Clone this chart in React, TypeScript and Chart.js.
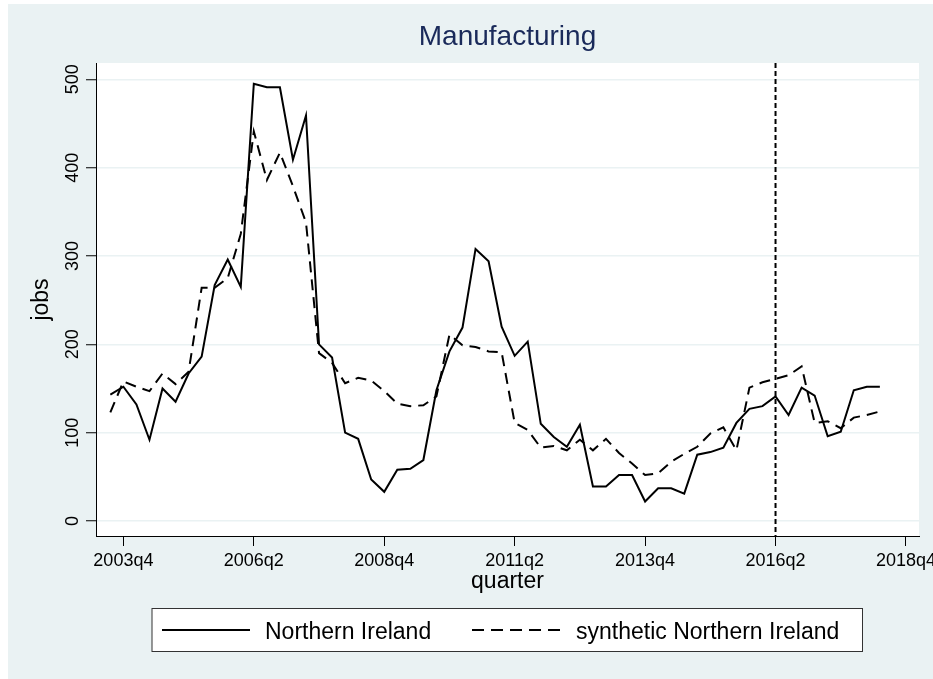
import React, { useEffect, useRef } from 'react';
import { Chart, registerables } from 'chart.js';

Chart.register(...registerables);

const quarters = [
  '2003q3', '2003q4', '2004q1', '2004q2', '2004q3', '2004q4', '2005q1', '2005q2', '2005q3', '2005q4',
  '2006q1', '2006q2', '2006q3', '2006q4', '2007q1', '2007q2', '2007q3', '2007q4', '2008q1', '2008q2',
  '2008q3', '2008q4', '2009q1', '2009q2', '2009q3', '2009q4', '2010q1', '2010q2', '2010q3', '2010q4',
  '2011q1', '2011q2', '2011q3', '2011q4', '2012q1', '2012q2', '2012q3', '2012q4', '2013q1', '2013q2',
  '2013q3', '2013q4', '2014q1', '2014q2', '2014q3', '2014q4', '2015q1', '2015q2', '2015q3', '2015q4',
  '2016q1', '2016q2', '2016q3', '2016q4', '2017q1', '2017q2', '2017q3', '2017q4', '2018q1', '2018q2',
];

const northernIreland = [
  143, 152, 132, 92, 150, 135, 167, 186, 267, 296,
  265, 495, 491, 491, 409, 459, 200, 185, 100, 93,
  47, 33, 58, 59, 69, 148, 192, 219, 308, 294,
  220, 187, 203, 110, 95, 84, 109, 39, 39, 52,
  52, 22, 37, 37, 31, 75, 78, 83, 111, 127,
  130, 141, 120, 151, 142, 96, 101, 148, 152, 152,
];

const syntheticNorthernIreland = [
  123, 158, 152, 147, 167, 155, 169, 264, 264, 275,
  325, 441, 386, 417, 379, 338, 190, 179, 156, 162,
  159, 147, 133, 130, 131, 141, 211, 199, 197, 192,
  191, 111, 103, 83, 85, 80, 92, 80, 93, 77,
  65, 52, 54, 67, 76, 84, 99, 106, 80, 151,
  157, 161, 165, 175, 111, 113, 105, 117, 120, 124,
];

const xTickLabels = ['2003q4', '2006q2', '2008q4', '2011q2', '2013q4', '2016q2', '2018q4'];
const yTickValues = [0, 100, 200, 300, 400, 500];
const treatmentQuarter = '2016q2';
const titleText = 'Manufacturing';
const xTitle = 'quarter';
const yTitle = 'jobs';
const seriesNames = ['Northern Ireland', 'synthetic Northern Ireland'];

const FONT = '"Liberation Sans", Arial, Helvetica, sans-serif';
const BG = '#eaf2f3';

// quarter label -> numeric index (quarters after 2003q4)
function quarterIndex(label: string): number {
  const [y, q] = label.split('q').map(Number);
  return y * 4 + (q - 1) - (2003 * 4 + 3);
}

export default function App() {
  const canvasRef = useRef<HTMLCanvasElement | null>(null);

  useEffect(() => {
    const canvas = canvasRef.current;
    if (!canvas) return;

    const decorPlugin = {
      id: 'decor',
      beforeDraw(chart: any) {
        const { ctx, chartArea, width, height } = chart;
        ctx.save();
        ctx.fillStyle = BG;
        ctx.fillRect(0, 0, width, height);
        ctx.fillStyle = '#ffffff';
        ctx.fillRect(chartArea.left, chartArea.top, chartArea.right - chartArea.left, chartArea.bottom - chartArea.top);
        ctx.restore();
      },
      afterDraw(chart: any) {
        const { ctx, chartArea } = chart;
        const xs = chart.scales.x;
        const ys = chart.scales.y;
        ctx.save();

        // treatment line
        const tx = xs.getPixelForValue(quarterIndex(treatmentQuarter));
        ctx.strokeStyle = '#000';
        ctx.lineWidth = 2;
        ctx.setLineDash([5, 3]);
        ctx.beginPath();
        ctx.moveTo(tx, chartArea.top);
        ctx.lineTo(tx, chartArea.bottom);
        ctx.stroke();
        ctx.setLineDash([]);

        // title
        const cx = (chartArea.left + chartArea.right) / 2;
        ctx.fillStyle = '#1a2a5a';
        ctx.font = `28px ${FONT}`;
        ctx.textAlign = 'center';
        ctx.textBaseline = 'alphabetic';
        ctx.fillText(titleText, cx, 41);

        // y tick labels (rotated)
        ctx.fillStyle = '#000';
        ctx.font = `18px ${FONT}`;
        for (const v of yTickValues) {
          const py = ys.getPixelForValue(v);
          ctx.save();
          ctx.translate(70, py);
          ctx.rotate(-Math.PI / 2);
          ctx.textAlign = 'center';
          ctx.fillText(String(v), 0, 0);
          ctx.restore();
        }

        // axis titles
        ctx.font = `23px ${FONT}`;
        ctx.save();
        ctx.translate(40, (chartArea.top + chartArea.bottom) / 2);
        ctx.rotate(-Math.PI / 2);
        ctx.textAlign = 'center';
        ctx.fillText(yTitle, 0, 0);
        ctx.restore();
        ctx.textAlign = 'center';
        ctx.fillText(xTitle, cx, 584);

        // legend
        const lx0 = 144, ly0 = 604.5, lx1 = 854.5, ly1 = 647.5;
        ctx.fillStyle = '#fff';
        ctx.fillRect(lx0, ly0, lx1 - lx0, ly1 - ly0);
        ctx.strokeStyle = '#333';
        ctx.lineWidth = 1;
        ctx.strokeRect(lx0, ly0, lx1 - lx0, ly1 - ly0);
        const lineY = 626;
        ctx.strokeStyle = '#000';
        ctx.lineWidth = 2;
        ctx.beginPath();
        ctx.moveTo(154, lineY);
        ctx.lineTo(242, lineY);
        ctx.stroke();
        ctx.setLineDash([12, 7]);
        ctx.beginPath();
        ctx.moveTo(464, lineY);
        ctx.lineTo(552, lineY);
        ctx.stroke();
        ctx.setLineDash([]);
        ctx.fillStyle = '#000';
        ctx.font = `23px ${FONT}`;
        ctx.textAlign = 'left';
        ctx.fillText(seriesNames[0], 257, 635);
        ctx.fillText(seriesNames[1], 568, 635);

        ctx.restore();
      },
    };

    const chart = new Chart(canvas, {
      type: 'line',
      data: {
        datasets: [
          {
            label: seriesNames[0],
            data: quarters.map((q, i) => ({ x: quarterIndex(q), y: northernIreland[i] })),
            borderColor: '#000',
            borderWidth: 2,
            pointRadius: 0,
            tension: 0,
            fill: false,
          },
          {
            label: seriesNames[1],
            data: quarters.map((q, i) => ({ x: quarterIndex(q), y: syntheticNorthernIreland[i] })),
            borderColor: '#000',
            borderWidth: 2,
            borderDash: [11, 7],
            pointRadius: 0,
            tension: 0,
            fill: false,
          },
        ],
      },
      options: {
        responsive: false,
        animation: false,
        devicePixelRatio: 1,
        layout: { padding: { left: 0, top: 59, right: 14, bottom: 83 } },
        plugins: {
          legend: { display: false },
          title: { display: false },
          tooltip: { enabled: false },
        },
        scales: {
          x: {
            type: 'linear',
            min: -2.1,
            max: 61,
            afterBuildTicks: (scale: any) => {
              scale.ticks = xTickLabels.map((l) => ({ value: quarterIndex(l) }));
            },
            afterFit: (scale: any) => {
              scale.height = 60;
              scale.paddingLeft = 0;
              scale.paddingRight = 0;
            },
            ticks: {
              autoSkip: false,
              maxRotation: 0,
              minRotation: 0,
              color: '#000',
              padding: 4,
              font: { family: FONT, size: 18 },
              callback: (value: any) => {
                const found = xTickLabels.find((l) => quarterIndex(l) === Number(value));
                return found ?? '';
              },
            },
            grid: {
              display: true,
              drawOnChartArea: false,
              drawTicks: true,
              tickLength: 10,
              tickColor: '#000',
              tickWidth: 1,
            },
            border: { display: true, color: '#000', width: 1 },
          },
          y: {
            type: 'linear',
            min: -17,
            max: 518.5,
            afterBuildTicks: (scale: any) => {
              scale.ticks = yTickValues.map((v) => ({ value: v }));
            },
            afterFit: (scale: any) => {
              scale.width = 88;
              scale.paddingTop = 0;
              scale.paddingBottom = 0;
            },
            ticks: { display: false },
            grid: {
              display: true,
              drawOnChartArea: true,
              drawTicks: true,
              tickLength: 10,
              color: BG,
              lineWidth: 1.5,
              tickColor: '#000',
              tickWidth: 1,
            },
            border: { display: true, color: '#000', width: 1 },
          },
        },
      },
      plugins: [decorPlugin],
    } as any);

    return () => {
      chart.destroy();
    };
  }, []);

  return (
    <canvas
      ref={canvasRef}
      width={925}
      height={675}
      style={{ position: 'absolute', left: 8, top: 4, width: 925, height: 675, display: 'block' }}
    />
  );
}
